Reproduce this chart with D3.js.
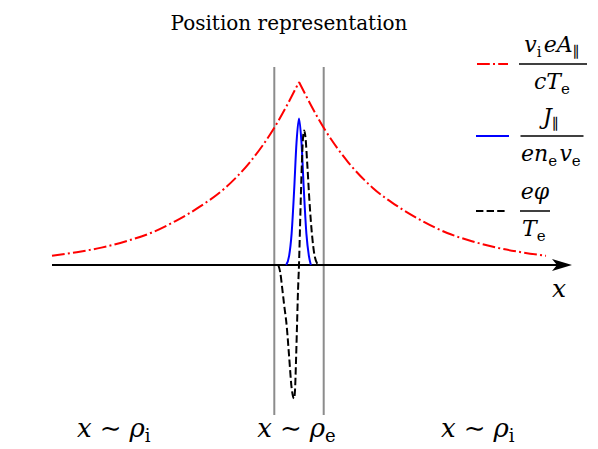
<!DOCTYPE html>
<html>
<head>
<meta charset="utf-8">
<script src="https://cdn.jsdelivr.net/npm/d3@7"></script>
<style>
  body { margin: 0; background: #fff; }
</style>
</head>
<body>
<div id="chart"></div>
<script>
// positions along x (arbitrary units, 0 = centre of the current layer)
const redX = [-5, -4.5, -4, -3.5, -3, -2.5, -2, -1.5, -1, -0.5, 0, 0.5, 1, 1.5, 2, 2.5, 3, 3.5, 4, 4.5, 5];
const redY = [0.05, 0.07, 0.095, 0.13, 0.175, 0.24, 0.32, 0.42, 0.56, 0.75, 1.0, 0.75, 0.56, 0.42, 0.32, 0.24, 0.175, 0.13, 0.095, 0.07, 0.05];

const blueX = [-0.26, -0.2, -0.15, -0.1, -0.05, 0, 0.05, 0.1, 0.15, 0.2, 0.24];
const blueY = [0.0, 0.05, 0.17, 0.40, 0.67, 0.80, 0.67, 0.40, 0.17, 0.05, 0.0];

const blackX = [-0.42, -0.38, -0.34, -0.3, -0.25, -0.2, -0.15, -0.1, -0.08, -0.06, -0.04, -0.02, 0, 0.02, 0.04, 0.06, 0.08, 0.105, 0.13, 0.17, 0.21, 0.26, 0.32, 0.39];
const blackY = [0.0, -0.04, -0.126, -0.22, -0.33, -0.50, -0.67, -0.73, -0.68, -0.52, -0.33, -0.14, 0.0, 0.2, 0.4, 0.57, 0.69, 0.735, 0.70, 0.54, 0.355, 0.175, 0.045, 0.0];

const layerEdges = [-0.5, 0.5];
const regionLabels = [["x", "ρ", "i", -3.75], ["x", "ρ", "e", -0.05], ["x", "ρ", "i", 3.62]];

const FONT = "'DejaVu Serif', 'Liberation Serif', 'Times New Roman', serif";
const W = 598, H = 449;
const svg = d3.select("#chart").append("svg").attr("width", W).attr("height", H)
  .style("font-family", FONT);

const x = d3.scaleLinear().domain([-5, 5]).range([52, 546]);
const y = d3.scaleLinear().domain([0, 1]).range([265, 82]);

// title
svg.append("text").attr("x", 289).attr("y", 30).attr("text-anchor", "middle")
  .style("font-family", FONT).attr("font-size", 20).text("Position representation");

// layer boundaries
svg.selectAll("line.edge").data(layerEdges).enter().append("line")
  .attr("class", "edge")
  .attr("x1", d => x(d)).attr("x2", d => x(d))
  .attr("y1", y(1.082)).attr("y2", y(-0.82))
  .attr("stroke", "#8c8c8c").attr("stroke-width", 2);

// x axis with arrow
svg.append("line").attr("x1", 52).attr("x2", 558).attr("y1", y(0)).attr("y2", y(0))
  .attr("stroke", "#000").attr("stroke-width", 2);
svg.append("path")
  .attr("d", "M572,265 L552,259 L557,265 L552,271 Z")
  .attr("fill", "#000");
svg.append("text").attr("x", 559).attr("y", 297)
  .attr("text-anchor", "middle").style("font-family", FONT).attr("font-style", "italic")
  .attr("font-size", 25).text("x");

const line = d3.line().x(d => x(d[0])).y(d => y(d[1]));

// red: two halves so the cusp stays sharp
const red = redX.map((v, i) => [v, redY[i]]);
const mid = redX.indexOf(0);
[red.slice(0, mid + 1), red.slice(mid)].forEach(part => {
  svg.append("path").datum(part)
    .attr("d", line.curve(d3.curveMonotoneX))
    .attr("fill", "none").attr("stroke", "#ff0000").attr("stroke-width", 2)
    .attr("stroke-dasharray", "12.8,3.2,2,3.2");
});

svg.append("path").datum(blueX.map((v, i) => [v, blueY[i]]))
  .attr("d", line.curve(d3.curveMonotoneX))
  .attr("fill", "none").attr("stroke", "#0000ff").attr("stroke-width", 2);

svg.append("path").datum(blackX.map((v, i) => [v, blackY[i]]))
  .attr("d", line.curve(d3.curveMonotoneX))
  .attr("fill", "none").attr("stroke", "#000").attr("stroke-width", 2)
  .attr("stroke-dasharray", "7.4,3.2");

function it(t, s) { t.append("tspan").attr("font-style", "italic").text(s); }
function sub(t, s, size) {
  t.append("tspan").attr("font-size", size || 15).attr("dy", 5).text(s);
  t.append("tspan").attr("dy", -5).text("\u200a");
}

// region labels
regionLabels.forEach(d => {
  const t = svg.append("text").attr("x", x(d[3])).attr("y", 437)
    .attr("text-anchor", "middle").style("font-family", FONT).attr("font-size", 26);
  it(t, d[0]);
  t.append("tspan").attr("dx", 8).text("∼");
  t.append("tspan").attr("dx", 8).attr("font-style", "italic").text(d[1]);
  t.append("tspan").attr("font-size", 18).attr("dy", 5).text(d[2]);
});

// legend
const legend = svg.append("g");
function frac(cx, yBar, w, num, den) {
  legend.append("line").attr("x1", cx - w / 2).attr("x2", cx + w / 2)
    .attr("y1", yBar).attr("y2", yBar).attr("stroke", "#000").attr("stroke-width", 1.5);
  const n = legend.append("text").attr("x", cx).attr("y", yBar - 12)
    .attr("text-anchor", "middle").style("font-family", FONT).attr("font-size", 22);
  num(n);
  const dn = legend.append("text").attr("x", cx).attr("y", yBar + 25)
    .attr("text-anchor", "middle").style("font-family", FONT).attr("font-size", 22);
  den(dn);
}

legend.append("line").attr("x1", 477).attr("x2", 508).attr("y1", 64).attr("y2", 64)
  .attr("stroke", "#ff0000").attr("stroke-width", 2).attr("stroke-dasharray", "12.8,3.2,2,3.2");
frac(553, 64, 68,
  t => { it(t, "v"); sub(t, "i"); it(t, "eA"); sub(t, "∥"); },
  t => { it(t, "cT"); sub(t, "e"); });

legend.append("line").attr("x1", 476).attr("x2", 509).attr("y1", 136).attr("y2", 136)
  .attr("stroke", "#0000ff").attr("stroke-width", 2);
frac(552, 136, 63,
  t => { it(t, "J"); sub(t, "∥"); },
  t => { it(t, "en"); sub(t, "e"); it(t, "v"); sub(t, "e"); });

legend.append("line").attr("x1", 476).attr("x2", 507).attr("y1", 211).attr("y2", 211)
  .attr("stroke", "#000").attr("stroke-width", 2).attr("stroke-dasharray", "7.4,3.2");
frac(535, 211, 30,
  t => { it(t, "eφ"); },
  t => { it(t, "T"); sub(t, "e"); });
</script>
</body>
</html>
